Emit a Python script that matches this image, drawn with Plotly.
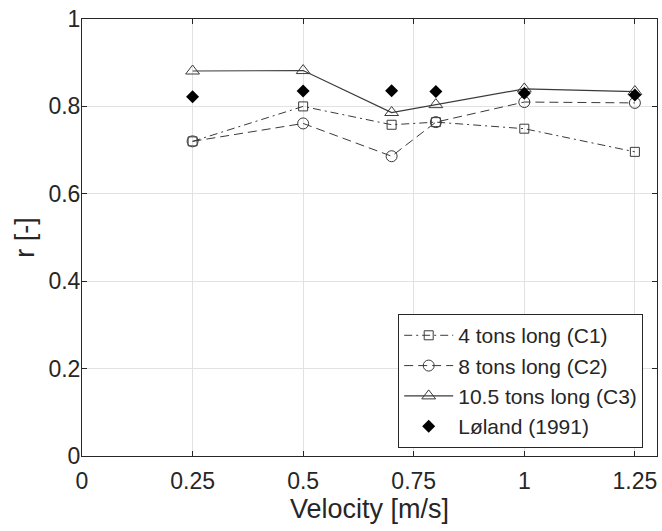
import plotly.graph_objects as go

# Towing velocity [m/s] and drag reduction factor r [-]
velocity = [0.25, 0.5, 0.7, 0.8, 1.0, 1.25]
r_c1 = [0.72, 0.80, 0.758, 0.764, 0.749, 0.696]   # 4 tons long (C1)
r_c2 = [0.72, 0.761, 0.686, 0.764, 0.810, 0.808]  # 8 tons long (C2)
r_c3 = [0.881, 0.882, 0.786, 0.804, 0.840, 0.834] # 10.5 tons long (C3)
r_loland = [0.822, 0.835, 0.836, 0.834, 0.830, 0.826]  # Løland (1991)

x_ticks = [0, 0.25, 0.5, 0.75, 1, 1.25]
x_ticklabels = ["0", "0.25", "0.5", "0.75", "1", "1.25"]
y_ticks = [0, 0.2, 0.4, 0.6, 0.8, 1]
y_ticklabels = ["0", "0.2", "0.4", "0.6", "0.8", "1"]

INK = "#3a3a3a"
TEXT = "#262626"
FONT = "Liberation Sans, Arial, sans-serif"

fig = go.Figure()

fig.add_trace(go.Scatter(
    x=velocity, y=r_c1, name="4 tons long (C1)", mode="lines+markers",
    line=dict(color=INK, width=1, dash="8px,4px,2px,4px"),
    marker=dict(symbol="square-open", size=9, color=INK, line=dict(width=1)),
))
fig.add_trace(go.Scatter(
    x=velocity, y=r_c2, name="8 tons long (C2)", mode="lines+markers",
    line=dict(color=INK, width=1, dash="9px,5px"),
    marker=dict(symbol="circle-open", size=11, color=INK, line=dict(width=1)),
))
fig.add_trace(go.Scatter(
    x=velocity, y=r_c3, name="10.5 tons long (C3)", mode="lines+markers",
    line=dict(color=INK, width=1.2),
    marker=dict(symbol="triangle-up-open", size=12, color=INK, line=dict(width=1)),
))
fig.add_trace(go.Scatter(
    x=velocity, y=r_loland, name="Løland (1991)", mode="markers",
    marker=dict(symbol="diamond", size=10, color="black"),
))

axis_common = dict(
    showline=True, linecolor=TEXT, linewidth=1, mirror="ticks",
    ticks="inside", ticklen=5, tickcolor=TEXT,
    showgrid=True, gridcolor="#e2e2e2", gridwidth=1,
    zeroline=False,
    tickfont=dict(family=FONT, size=23, color=TEXT),
)

fig.update_xaxes(
    range=[0, 1.3], tickvals=x_ticks, ticktext=x_ticklabels,
    ticklabelstandoff=4,
    title=dict(text="Velocity [m/s]", font=dict(family=FONT, size=27, color=TEXT), standoff=4),
    **axis_common,
)
fig.update_yaxes(
    range=[0, 1], tickvals=y_ticks, ticktext=y_ticklabels,
    ticklabelstandoff=-4,
    title=dict(text="r [-]", font=dict(family=FONT, size=27, color=TEXT), standoff=5),
    **axis_common,
)

fig.update_layout(
    width=662, height=531,
    margin=dict(l=82, r=5, t=19, b=75),
    paper_bgcolor="white", plot_bgcolor="white",
    font=dict(family=FONT, color=TEXT),
    showlegend=True,
    legend=dict(
        x=0.976, y=0.018, xanchor="right", yanchor="bottom",
        bgcolor="white", bordercolor=TEXT, borderwidth=1,
        font=dict(family=FONT, size=21, color=TEXT),
        tracegroupgap=0, itemwidth=49,
    ),
)

fig.write_html("out.html")
